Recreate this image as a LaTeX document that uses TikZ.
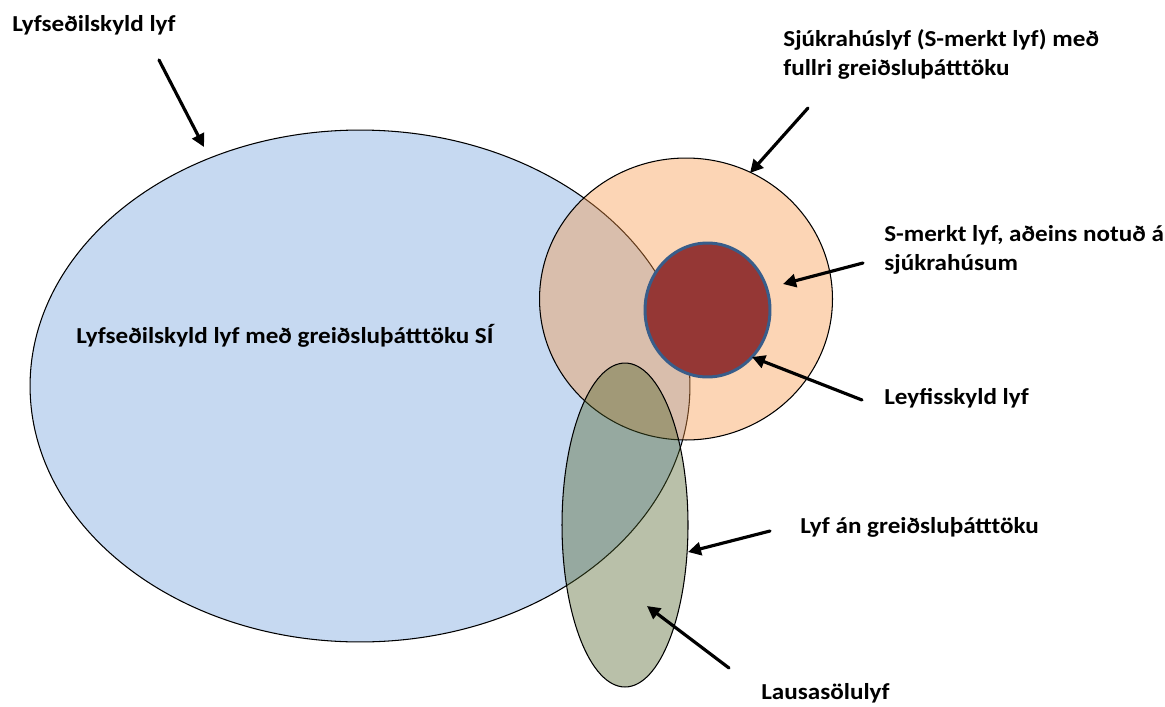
\documentclass[tikz,border=0pt]{standalone}
\usepackage{fontspec}
\setmainfont{Carlito}[FakeStretch=1.1]
\usepackage{tikz}
\usetikzlibrary{arrows.meta,positioning,shapes.geometric}
\definecolor{setblue}{HTML}{C6D9F1}
\definecolor{setorange}{HTML}{F79646}
\definecolor{setolive}{HTML}{4F6228}
\definecolor{hospred}{HTML}{953735}
\definecolor{rimblue}{HTML}{385D8A}
\tikzset{
    every picture/.style={line cap=round,line join=round},
    setshape/.style={ellipse,draw=black,line width=0.6pt,inner sep=0pt,outer sep=0pt},
    seethrough/.style={fill opacity=0.4},
    setlabel/.style={anchor=base west,inner sep=0pt,align=left,
      font=\bfseries\fontsize{13}{16}\selectfont},
    pointer/.style={-{Triangle[length=2.6mm,width=2.6mm]},draw=black,
      line width=1.8pt}
}
\begin{document}
\begin{tikzpicture}[x=0.02cm,y=-0.02cm]
    \useasboundingbox (0,0) rectangle (1165,706);
    % sets
    \node[setshape,fill=setblue,minimum width=13.2cm,minimum height=10.24cm] (rxset) at (360,386) {};
    \node[setshape,seethrough,fill=setorange,minimum width=5.86cm,minimum height=5.64cm] (hospset) at (686,299) {};
    \node[setshape,seethrough,fill=setolive,minimum width=2.52cm,minimum height=6.48cm] (otcset) at (625,525) {};
    \node[setshape,fill=hospred,draw=rimblue,line width=1.7pt,minimum width=2.5cm,minimum height=2.68cm] (permset) at (707.5,310) {};
    % labels (two-line ones sit on their last line)
    \node[setlabel] (rxlbl) at (12,32) {Lyfseðilskyld lyf};
    \node[setlabel] (rxsilbl) at (76,343) {Lyfseðilskyld lyf með greiðsluþátttöku SÍ};
    \node[setlabel] (hosplbl) at (783,75) {Sjúkrahúslyf (S-merkt lyf) með\\fullri greiðsluþátttöku};
    \node[setlabel] (onlylbl) at (884,270) {S-merkt lyf, aðeins notuð á\\sjúkrahúsum};
    \node[setlabel] (permlbl) at (884,404) {Leyfisskyld lyf};
    \node[setlabel] (nopaylbl) at (800,533) {Lyf án greiðsluþátttöku};
    \node[setlabel] (otclbl) at (761,699) {Lausasölulyf};
    % arrows
    \coordinate (rxfrom) at (159,60);    \coordinate (rxtip) at (204,147);
    \coordinate (hospfrom) at (808,108); \coordinate (hosptip) at (750,173);
    \coordinate (onlyfrom) at (863,263); \coordinate (onlytip) at (783,284);
    \coordinate (permfrom) at (862,400); \coordinate (permtip) at (752,357);
    \coordinate (nopayfrom) at (770,531); \coordinate (nopaytip) at (688,552);
    \coordinate (otcfrom) at (729,668);  \coordinate (otctip) at (647,606);
    \draw[pointer] (rxfrom)--(rxtip);
    \draw[pointer] (hospfrom)--(hosptip);
    \draw[pointer] (onlyfrom)--(onlytip);
    \draw[pointer] (permfrom)--(permtip);
    \draw[pointer] (nopayfrom)--(nopaytip);
    \draw[pointer] (otcfrom)--(otctip);
\end{tikzpicture}
\end{document}
